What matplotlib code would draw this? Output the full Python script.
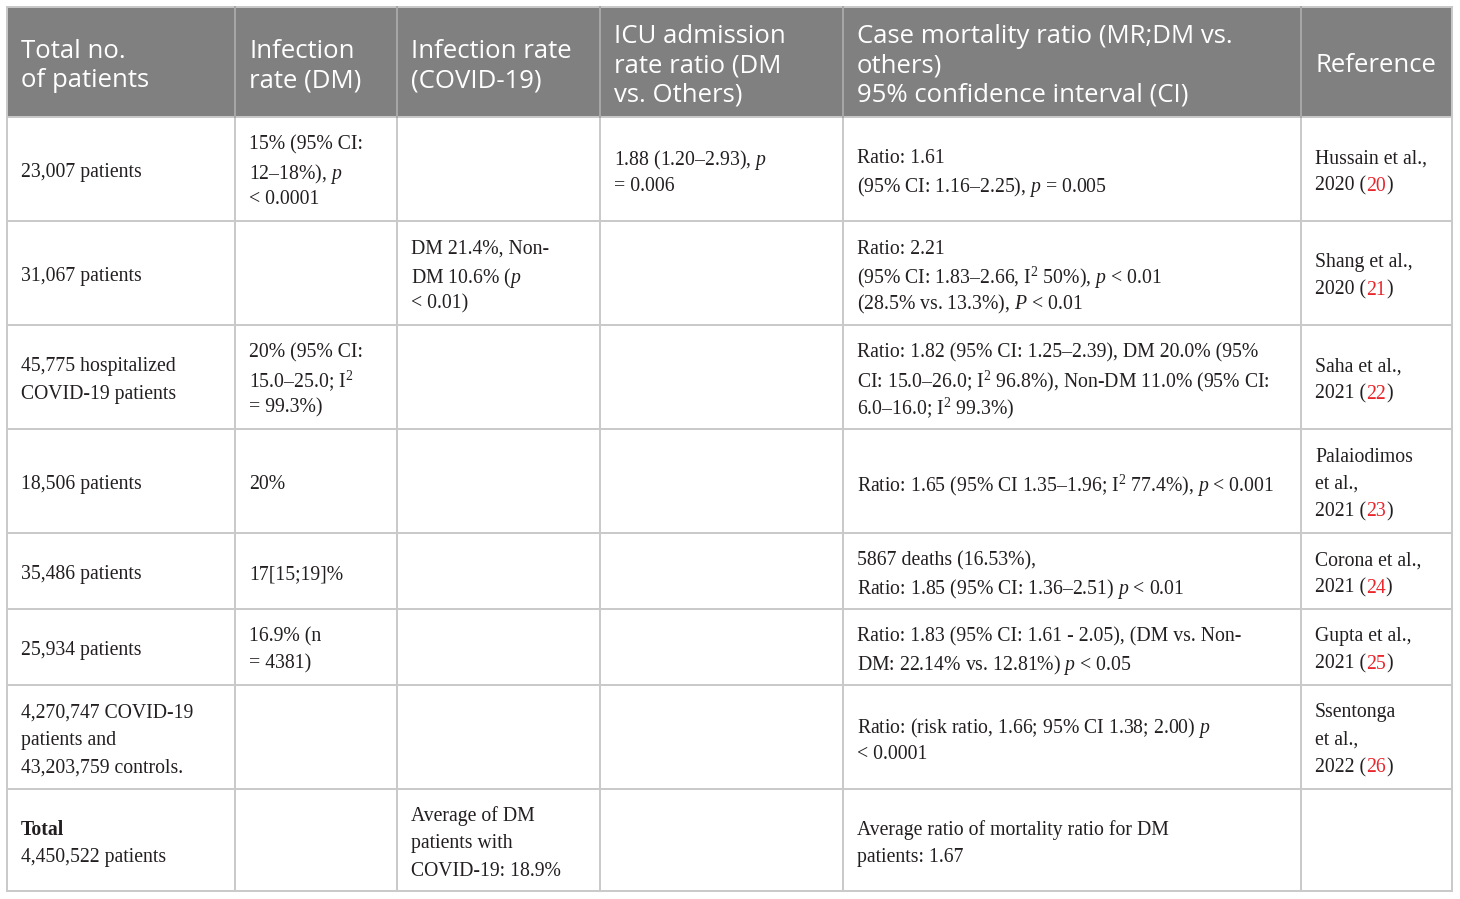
import matplotlib
matplotlib.use("Agg")
import matplotlib.pyplot as plt

plt.rcParams['mathtext.fontset'] = 'custom'
plt.rcParams['mathtext.rm'] = 'Liberation Serif'
plt.rcParams['mathtext.it'] = 'Liberation Serif:italic'
plt.rcParams['mathtext.bf'] = 'Liberation Serif:bold'

# table content
headers = [
    "Total no.\nof patients",
    "Infection\nrate (DM)",
    "Infection rate\n(COVID-19)",
    "ICU admission\nrate ratio (DM\nvs. Others)",
    "Case mortality ratio (MR;DM vs.\nothers)\n95% confidence interval (CI)",
    "Reference",
]

col_total = [
    "23,007 patients",
    "31,067 patients",
    "45,775 hospitalized\nCOVID-19 patients",
    "18,506 patients",
    "35,486 patients",
    "25,934 patients",
    "4,270,747 COVID-19\npatients and\n43,203,759 controls.",
    "**Total\n4,450,522 patients",
]
col_inf_dm = [
    "15% (95% CI:\n12\u201318%), $p$\n< 0.0001",
    "",
    "20% (95% CI:\n15.0\u201325.0; $\\mathrm{I}^2$\n= 99.3%)",
    "20%",
    "17[15;19]%",
    "16.9% (n\n= 4381)",
    "",
    "",
]
col_inf_covid = [
    "",
    "DM 21.4%, Non-\nDM 10.6% ($p$\n< 0.01)",
    "", "", "", "", "",
    "Average of DM\npatients with\nCOVID-19: 18.9%",
]
col_icu = [
    "1.88 (1.20\u20132.93), $p$\n= 0.006",
    "", "", "", "", "", "", "",
]
col_mortality = [
    "Ratio: 1.61\n(95% CI: 1.16\u20132.25), $p$ = 0.005",
    "Ratio: 2.21\n(95% CI: 1.83\u20132.66, $\\mathrm{I}^2$ 50%), $p$ < 0.01\n(28.5% vs. 13.3%), $P$ < 0.01",
    "Ratio: 1.82 (95% CI: 1.25\u20132.39), DM 20.0% (95%\nCI: 15.0\u201326.0; $\\mathrm{I}^2$ 96.8%), Non-DM 11.0% (95% CI:\n6.0\u201316.0; $\\mathrm{I}^2$ 99.3%)",
    "Ratio: 1.65 (95% CI 1.35\u20131.96; $\\mathrm{I}^2$ 77.4%), $p$ < 0.001",
    "5867 deaths (16.53%),\nRatio: 1.85 (95% CI: 1.36\u20132.51) $p$ < 0.01",
    "Ratio: 1.83 (95% CI: 1.61 - 2.05), (DM vs. Non-\nDM: 22.14% vs. 12.81%) $p$ < 0.05",
    "Ratio: (risk ratio, 1.66; 95% CI 1.38; 2.00) $p$\n< 0.0001",
    "Average ratio of mortality ratio for DM\npatients: 1.67",
]
ref_authors = ["Hussain et al.,", "Shang et al.,", "Saha et al.,",
               "Palaiodimos\net al.,", "Corona et al.,", "Gupta et al.,",
               "Ssentonga\net al.,", None]
ref_years = [2020, 2020, 2021, 2021, 2021, 2021, 2022, None]
ref_nums = [20, 21, 22, 23, 24, 25, 26, None]

# layout (pixels)
W, H = 1460, 899
col_x = [7, 235, 397, 600, 843, 1301, 1452]
row_y = [7, 117, 221, 325, 429, 533, 609, 685, 789, 891]
pad = 14
body_step = 27.5
head_step = 29.5
body_fs = 14.2
head_fs = 18.5
body_font = 'Liberation Serif'
head_font = 'Open Sans'
text_col = '#231f20'
red = '#e8262c'

fig = plt.figure(figsize=(W / 100, H / 100), dpi=100)
ax = fig.add_axes([0, 0, 1, 1])
ax.set_xlim(0, W)
ax.set_ylim(H, 0)
ax.axis('off')

# header background
ax.add_patch(plt.Rectangle((col_x[0], row_y[0]), col_x[-1] - col_x[0],
                           row_y[1] - row_y[0], color='#808080', lw=0, zorder=1))

# grid lines
line_col = '#c9c9c9'
for y in row_y[1:]:
    ax.plot([col_x[0], col_x[-1]], [y, y], color=line_col, lw=1.4, zorder=2)
ax.plot([col_x[0], col_x[-1]], [row_y[0], row_y[0]], color=line_col, lw=1.4, zorder=2)
for i, x in enumerate(col_x):
    ax.plot([x, x], [row_y[1], row_y[-1]], color=line_col, lw=1.4, zorder=2)
    c = line_col if i in (0, len(col_x) - 1) else '#a8a8a8'
    ax.plot([x, x], [row_y[0], row_y[1]], color=c, lw=1.4, zorder=2)


def line_positions(n, top, bottom, step):
    mid = (top + bottom) / 2
    return [mid + (k - (n - 1) / 2) * step for k in range(n)]


# header text
for j, h in enumerate(headers):
    lines = h.split("\n")
    for y, ln in zip(line_positions(len(lines), row_y[0], row_y[1], head_step), lines):
        ax.text(col_x[j] + pad, y + 1, ln, fontsize=head_fs, family=head_font,
                color='white', va='center_baseline', ha='left', zorder=3)

body_cols = [col_total, col_inf_dm, col_inf_covid, col_icu, col_mortality]
for i in range(len(col_total)):
    top, bottom = row_y[i + 1], row_y[i + 2]
    for j, col in enumerate(body_cols):
        cell = col[i]
        if not cell:
            continue
        bold_first = cell.startswith("**")
        lines = cell.lstrip("*").split("\n")
        for k, (y, ln) in enumerate(zip(line_positions(len(lines), top, bottom, body_step), lines)):
            ax.text(col_x[j] + pad, y + 1, ln, fontsize=body_fs, family=body_font,
                    color=text_col, va='center_baseline', ha='left', zorder=3,
                    fontweight='bold' if (bold_first and k == 0) else 'normal')

fig.canvas.draw()
renderer = fig.canvas.get_renderer()
inv = ax.transData.inverted()

# reference column with red citation numbers
for i in range(len(ref_authors)):
    if ref_authors[i] is None:
        continue
    top, bottom = row_y[i + 1], row_y[i + 2]
    lines = ref_authors[i].split("\n") + ["__last__"]
    ys = line_positions(len(lines), top, bottom, body_step)
    for y, ln in zip(ys, lines):
        x0 = col_x[5] + pad
        if ln != "__last__":
            ax.text(x0, y + 1, ln, fontsize=body_fs, family=body_font,
                    color=text_col, va='center_baseline', ha='left', zorder=3)
            continue
        for seg, c in [(f"{ref_years[i]} (", text_col), (str(ref_nums[i]), red), (")", text_col)]:
            t = ax.text(x0, y + 1, seg, fontsize=body_fs, family=body_font,
                        color=c, va='center_baseline', ha='left', zorder=3)
            bb = t.get_window_extent(renderer)
            x0 = inv.transform((bb.x1, bb.y0))[0]

fig.savefig("out.png", dpi=100, facecolor='white')
